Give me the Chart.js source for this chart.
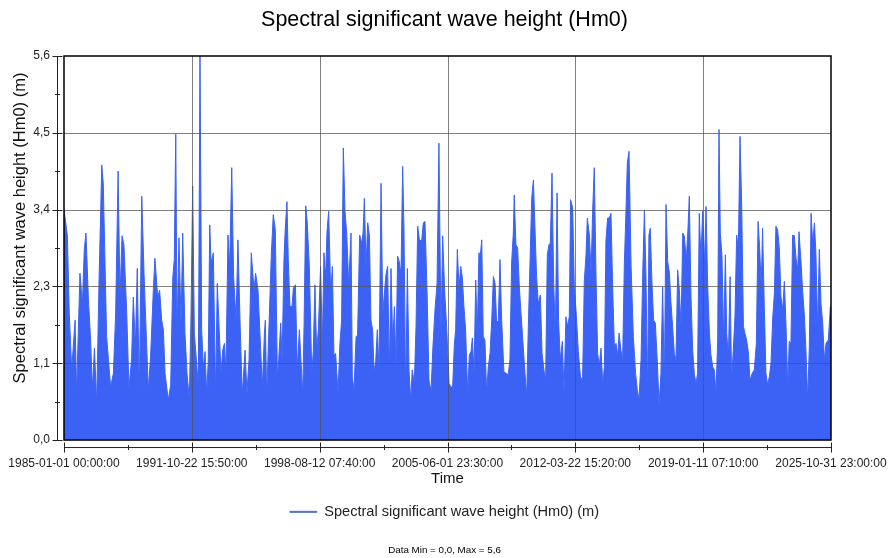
<!DOCTYPE html>
<html>
<head>
<meta charset="utf-8">
<script src="https://cdn.jsdelivr.net/npm/chart.js@4.4.1/dist/chart.umd.min.js"></script>
<style>
  body { margin: 0; background: #fff; }
  #wave { display: block; }
</style>
</head>
<body>
<canvas id="wave" width="889" height="558"></canvas>
<script>
// texts
const chartTitle = "Spectral significant wave height (Hm0)";
const seriesLabel = "Spectral significant wave height (Hm0) (m)";
const xTitle = "Time";
const footNote = "Data Min = 0,0, Max = 5,6";

// x axis tick labels (first and last are the axis ends)
const timeTickLabels = [
    "1985-01-01 00:00:00",
    "1991-10-22 15:50:00",
    "1998-08-12 07:40:00",
    "2005-06-01 23:30:00",
    "2012-03-22 15:20:00",
    "2019-01-11 07:10:00",
    "2025-10-31 23:00:00"
];

// y axis
const yMax = 5.64;
const yTickLabels = ["0,0", "1,1", "2,3", "3,4", "4,5", "5,6"];

// peaks / troughs, time as decimal year
const sampleYears = [
    1985.00, 1985.18, 1985.28, 1985.41, 1985.59, 1985.67, 1985.85, 1985.98, 1986.08, 1986.17,
    1986.30, 1986.42, 1986.51, 1986.62, 1986.74, 1986.86, 1987.01, 1987.09, 1987.27, 1987.48,
    1987.63, 1987.75, 1987.88, 1987.98, 1988.09, 1988.19, 1988.34, 1988.46, 1988.60, 1988.69,
    1988.80, 1988.90, 1989.01, 1989.14, 1989.26, 1989.37, 1989.49, 1989.61, 1989.76, 1989.84,
    1989.99, 1990.09, 1990.20, 1990.29, 1990.38, 1990.55, 1990.68, 1990.79, 1990.87, 1990.95,
    1991.02, 1991.12, 1991.23, 1991.32, 1991.44, 1991.55, 1991.67, 1991.76, 1991.85, 1991.94,
    1992.06, 1992.15, 1992.24, 1992.33, 1992.42, 1992.51, 1992.60, 1992.68, 1992.76, 1992.83,
    1992.95, 1993.07, 1993.16, 1993.27, 1993.36, 1993.45, 1993.54, 1993.62, 1993.73, 1993.82,
    1993.93, 1994.03, 1994.16, 1994.26, 1994.37, 1994.49, 1994.64, 1994.74, 1994.85, 1994.97,
    1995.12, 1995.20, 1995.33, 1995.43, 1995.56, 1995.67, 1995.72, 1995.79, 1995.93, 1996.04,
    1996.09, 1996.14, 1996.25, 1996.36, 1996.43, 1996.54, 1996.61, 1996.71, 1996.78, 1996.87,
    1996.94, 1997.03, 1997.14, 1997.21, 1997.32, 1997.42, 1997.53, 1997.65, 1997.71, 1997.78,
    1997.87, 1997.95, 1998.06, 1998.19, 1998.27, 1998.36, 1998.45, 1998.54, 1998.66, 1998.75,
    1998.84, 1998.93, 1999.00, 1999.09, 1999.20, 1999.29, 1999.37, 1999.46, 1999.59, 1999.69,
    1999.78, 1999.87, 1999.96, 2000.05, 2000.16, 2000.28, 2000.35, 2000.44, 2000.55, 2000.63,
    2000.74, 2000.85, 2000.92, 2000.99, 2001.08, 2001.17, 2001.26, 2001.34, 2001.43, 2001.50,
    2001.59, 2001.68, 2001.77, 2001.88, 2001.97, 2002.05, 2002.14, 2002.23, 2002.32, 2002.41,
    2002.50, 2002.59, 2002.67, 2002.76, 2002.85, 2002.94, 2003.03, 2003.10, 2003.19, 2003.28,
    2003.37, 2003.46, 2003.54, 2003.65, 2003.74, 2003.83, 2003.92, 2004.04, 2004.13, 2004.22,
    2004.33, 2004.43, 2004.54, 2004.64, 2004.75, 2004.86, 2004.96, 2005.07, 2005.16, 2005.27,
    2005.37, 2005.50, 2005.60, 2005.69, 2005.78, 2005.85, 2005.94, 2006.03, 2006.12, 2006.21,
    2006.29, 2006.38, 2006.49, 2006.58, 2006.67, 2006.74, 2006.83, 2006.92, 2007.00, 2007.09,
    2007.16, 2007.24, 2007.32, 2007.41, 2007.50, 2007.59, 2007.68, 2007.77, 2007.86, 2007.95,
    2008.03, 2008.12, 2008.21, 2008.30, 2008.42, 2008.53, 2008.65, 2008.74, 2008.83, 2008.92,
    2008.97, 2009.06, 2009.15, 2009.24, 2009.33, 2009.45, 2009.54, 2009.63, 2009.72, 2009.81,
    2009.90, 2009.99, 2010.07, 2010.16, 2010.25, 2010.36, 2010.45, 2010.55, 2010.64, 2010.73,
    2010.82, 2010.89, 2010.98, 2011.07, 2011.16, 2011.25, 2011.33, 2011.42, 2011.53, 2011.62,
    2011.72, 2011.81, 2011.90, 2011.97, 2012.08, 2012.17, 2012.28, 2012.38, 2012.51, 2012.61,
    2012.70, 2012.79, 2012.86, 2012.97, 2013.06, 2013.14, 2013.23, 2013.32, 2013.41, 2013.50,
    2013.59, 2013.68, 2013.77, 2013.85, 2013.94, 2014.03, 2014.12, 2014.21, 2014.30, 2014.39,
    2014.48, 2014.55, 2014.65, 2014.74, 2014.83, 2014.92, 2014.99, 2015.08, 2015.19, 2015.31,
    2015.43, 2015.52, 2015.61, 2015.72, 2015.81, 2015.90, 2015.98, 2016.07, 2016.14, 2016.21,
    2016.30, 2016.39, 2016.48, 2016.59, 2016.68, 2016.78, 2016.87, 2016.96, 2017.05, 2017.14,
    2017.23, 2017.31, 2017.40, 2017.49, 2017.58, 2017.67, 2017.76, 2017.85, 2017.94, 2018.02,
    2018.13, 2018.22, 2018.29, 2018.38, 2018.47, 2018.56, 2018.65, 2018.73, 2018.82, 2018.91,
    2019.00, 2019.09, 2019.18, 2019.27, 2019.36, 2019.44, 2019.53, 2019.62, 2019.71, 2019.80,
    2019.87, 2019.94, 2020.03, 2020.12, 2020.21, 2020.28, 2020.37, 2020.46, 2020.54, 2020.63,
    2020.72, 2020.81, 2020.90, 2020.99, 2021.08, 2021.17, 2021.25, 2021.34, 2021.43, 2021.52,
    2021.64, 2021.75, 2021.86, 2021.95, 2022.03, 2022.12, 2022.19, 2022.28, 2022.37, 2022.46,
    2022.55, 2022.64, 2022.73, 2022.82, 2022.90, 2022.99, 2023.08, 2023.17, 2023.26, 2023.35,
    2023.44, 2023.53, 2023.61, 2023.70, 2023.79, 2023.88, 2023.97, 2024.06, 2024.13, 2024.24,
    2024.32, 2024.41, 2024.50, 2024.59, 2024.68, 2024.77, 2024.86, 2024.95, 2025.03, 2025.12,
    2025.21, 2025.30, 2025.39, 2025.48, 2025.57, 2025.69, 2025.80, 2025.83
];

const hm0Values = [
    3.38, 3.00, 1.86, 1.03, 1.76, 0.69, 2.45, 2.00, 2.80, 3.04,
    2.06, 1.45, 0.74, 1.35, 0.54, 2.28, 4.04, 3.77, 1.52, 0.78,
    0.98, 1.86, 3.95, 2.10, 3.00, 2.87, 1.86, 0.76, 1.20, 2.10,
    1.37, 2.52, 0.69, 3.58, 2.45, 1.62, 0.74, 1.23, 2.23, 2.67,
    2.10, 2.20, 1.76, 1.62, 0.98, 0.59, 0.81, 2.38, 2.65, 4.49,
    1.57, 2.97, 1.72, 3.04, 1.57, 0.98, 0.59, 1.81, 3.73, 1.57,
    1.13, 0.78, 5.64, 1.62, 1.05, 1.30, 0.66, 1.18, 3.16, 2.60,
    2.75, 0.64, 2.30, 1.57, 0.98, 1.32, 1.42, 0.98, 3.01, 2.55,
    4.00, 2.40, 1.76, 2.94, 1.76, 0.66, 1.32, 0.69, 1.18, 2.75,
    2.20, 2.45, 2.20, 1.57, 0.78, 1.57, 1.76, 0.64, 1.81, 2.75,
    3.01, 3.31, 3.09, 0.93, 1.18, 1.72, 1.15, 2.65, 3.11, 3.50,
    2.65, 1.96, 1.96, 2.23, 2.28, 1.03, 1.62, 0.98, 0.66, 1.69,
    3.44, 3.19, 2.55, 0.98, 1.30, 2.28, 1.30, 1.62, 2.55, 1.37,
    2.75, 2.38, 3.06, 3.36, 2.16, 2.55, 1.25, 1.27, 0.69, 1.42,
    1.76, 4.29, 3.36, 3.04, 2.28, 3.04, 0.91, 0.74, 1.52, 1.54,
    3.01, 2.89, 3.04, 3.55, 2.55, 3.19, 3.00, 1.76, 1.62, 1.03,
    1.13, 1.62, 1.03, 3.77, 1.86, 2.13, 2.43, 2.55, 0.98, 2.52,
    1.42, 1.96, 1.10, 2.70, 2.62, 2.43, 4.02, 3.09, 0.66, 2.52,
    1.00, 0.59, 1.03, 0.83, 1.67, 3.14, 2.94, 2.92, 3.19, 3.21,
    2.16, 0.88, 0.71, 1.37, 1.91, 2.30, 4.36, 1.57, 3.00, 2.16,
    1.67, 0.83, 0.78, 0.78, 1.40, 1.62, 2.80, 2.23, 2.55, 2.38,
    1.96, 1.62, 0.69, 1.25, 1.30, 1.50, 0.98, 2.35, 1.57, 2.75,
    2.70, 2.94, 1.52, 1.47, 0.69, 1.08, 1.27, 1.76, 2.40, 2.30,
    1.74, 1.74, 2.65, 1.76, 1.00, 0.98, 0.96, 1.18, 2.60, 3.04,
    3.60, 2.87, 2.82, 2.25, 1.86, 1.37, 0.98, 0.64, 1.67, 2.62,
    3.55, 3.82, 3.14, 2.40, 2.00, 2.13, 1.27, 1.03, 0.88, 2.72,
    2.87, 2.89, 3.92, 2.30, 1.57, 3.63, 1.76, 1.18, 1.45, 0.69,
    1.81, 1.67, 1.81, 3.53, 3.41, 2.23, 1.81, 1.30, 0.88, 0.93,
    2.33, 2.72, 3.26, 3.01, 2.45, 3.33, 4.00, 2.45, 1.27, 1.10,
    1.35, 0.81, 1.08, 2.92, 3.26, 3.26, 3.33, 2.23, 1.37, 1.42,
    1.23, 1.57, 1.32, 1.18, 2.57, 3.38, 4.07, 4.24, 2.55, 1.52,
    0.98, 0.74, 0.59, 1.18, 2.45, 3.38, 2.45, 0.69, 3.01, 3.11,
    2.33, 1.76, 1.72, 1.13, 0.51, 0.98, 2.25, 0.78, 3.46, 2.62,
    2.45, 2.03, 1.67, 1.27, 1.18, 2.50, 2.20, 1.67, 3.04, 3.00,
    2.65, 3.11, 3.58, 2.10, 1.32, 0.96, 0.83, 0.98, 3.33, 2.65,
    3.36, 2.55, 3.43, 2.25, 1.57, 1.25, 1.08, 1.03, 0.69, 1.47,
    4.56, 3.04, 2.70, 1.47, 2.72, 1.57, 1.20, 2.40, 0.88, 1.32,
    1.81, 3.01, 2.80, 4.46, 3.43, 1.67, 1.57, 1.47, 1.30, 0.88,
    0.98, 1.03, 1.42, 3.21, 2.84, 2.25, 3.11, 1.98, 0.98, 0.81,
    0.93, 1.13, 1.79, 2.16, 3.14, 3.09, 2.82, 2.10, 1.91, 2.33,
    1.67, 0.78, 1.45, 1.42, 3.01, 3.00, 2.67, 2.50, 3.06, 2.60,
    2.20, 1.86, 1.32, 0.59, 1.37, 3.33, 2.89, 3.19, 2.75, 1.62,
    2.80, 2.00, 1.72, 1.18, 1.42, 1.47, 1.96, 1.60
];

const blue = "#3b62f4";
const legendBlue = "#4c70dc";
const fontFam = "'Liberation Sans', Arial, sans-serif";

const startMs = Date.UTC(1985, 0, 1);
const yearMs = 365.2425 * 86400000;

function parseStamp(s) {
    const [d, t] = s.split(" ");
    const [yy, mm, dd] = d.split("-").map(Number);
    const [hh, mi, ss] = t.split(":").map(Number);
    return Date.UTC(yy, mm - 1, dd, hh, mi, ss);
}

const xTickValues = timeTickLabels.map(parseStamp);
const yTickValues = yTickLabels.map((l, i) => i * yMax / (yTickLabels.length - 1));

const points = sampleYears.map((yr, i) => ({
    x: startMs + (yr - 1985) * yearMs,
    y: hm0Values[i]
}));

// plot frame, grid over the data, the detached axis lines with minor ticks,
// and the y title (sits a bit above the plot centre in the original)
const axisDecor = {
    id: "axisDecor",
    afterDatasetsDraw(chart) {
        const { ctx, chartArea: a, scales: { x, y } } = chart;
        ctx.save();

        ctx.strokeStyle = "rgba(85,85,85,0.75)";
        ctx.lineWidth = 1;
        ctx.beginPath();
        xTickValues.forEach(v => {
            const px = Math.round(x.getPixelForValue(v)) + 0.5;
            if (px > a.left + 2 && px < a.right - 2) {
                ctx.moveTo(px, a.top);
                ctx.lineTo(px, a.bottom);
            }
        });
        yTickValues.forEach(v => {
            const py = Math.round(y.getPixelForValue(v)) + 0.5;
            if (py > a.top + 2 && py < a.bottom - 2) {
                ctx.moveTo(a.left, py);
                ctx.lineTo(a.right, py);
            }
        });
        ctx.stroke();

        ctx.strokeStyle = "#000";
        ctx.lineWidth = 1.5;
        ctx.strokeRect(a.left, a.top, a.right - a.left, a.bottom - a.top);

        // y axis, left of the frame
        ctx.lineWidth = 1;
        ctx.strokeStyle = "#222";
        const ax = a.left - 6.5;
        ctx.beginPath();
        ctx.moveTo(ax, a.top);
        ctx.lineTo(ax, a.bottom);
        yTickValues.forEach((v, i) => {
            const py = Math.round(y.getPixelForValue(v)) + 0.5;
            ctx.moveTo(ax - 5, py);
            ctx.lineTo(ax + 5, py);
            if (i < yTickValues.length - 1) {
                const pm = Math.round(y.getPixelForValue(v + yMax / 10)) + 0.5;
                ctx.moveTo(ax - 2.5, pm);
                ctx.lineTo(ax + 2.5, pm);
            }
        });
        ctx.stroke();

        // x axis, below the frame
        const ay = a.bottom + 7.5;
        ctx.beginPath();
        ctx.moveTo(a.left, ay);
        ctx.lineTo(a.right, ay);
        xTickValues.forEach((v, i) => {
            const px = Math.round(x.getPixelForValue(v)) + 0.5;
            ctx.moveTo(px, ay - 5);
            ctx.lineTo(px, ay + 5);
            if (i < xTickValues.length - 1) {
                const pm = Math.round(x.getPixelForValue((v + xTickValues[i + 1]) / 2)) + 0.5;
                ctx.moveTo(pm, ay - 2.5);
                ctx.lineTo(pm, ay + 2.5);
            }
        });
        ctx.stroke();

        // y title
        ctx.translate(20, 228);
        ctx.rotate(-Math.PI / 2);
        ctx.font = "16.5px " + fontFam;
        ctx.fillStyle = "#111";
        ctx.textAlign = "center";
        ctx.textBaseline = "middle";
        ctx.fillText(seriesLabel, 0, 0);

        ctx.restore();
    }
};

new Chart(document.getElementById("wave"), {
    type: "line",
    data: {
        datasets: [
            {
                label: seriesLabel,
                data: points,
                borderColor: blue,
                backgroundColor: blue,
                borderWidth: 1,
                fill: "origin",
                pointRadius: 0,
                tension: 0
            }
        ]
    },
    options: {
        responsive: false,
        animation: false,
        layout: { padding: 0 },
        plugins: {
            title: {
                display: true,
                text: chartTitle,
                color: "#000",
                font: { family: fontFam, size: 21.5, weight: "normal" },
                padding: { top: 7.1, bottom: 23.1 }
            },
            legend: {
                position: "bottom",
                labels: {
                    boxWidth: 27,
                    boxHeight: 1,
                    padding: 10,
                    color: "#222",
                    font: { family: fontFam, size: 14.6 },
                    generateLabels: chart => [{
                        text: seriesLabel,
                        fillStyle: legendBlue,
                        strokeStyle: legendBlue,
                        lineWidth: 1,
                        fontColor: "#222",
                        datasetIndex: 0
                    }]
                }
            },
            subtitle: {
                display: true,
                position: "bottom",
                text: footNote,
                color: "#000",
                font: { family: fontFam, size: 9.8 },
                padding: { top: 15, bottom: 2.1 }
            },
            tooltip: { enabled: false }
        },
        scales: {
            x: {
                type: "linear",
                min: xTickValues[0],
                max: xTickValues[xTickValues.length - 1],
                afterBuildTicks: s => { s.ticks = xTickValues.map(v => ({ value: v })); },
                afterFit: s => {
                    s.height = 54.5;
                    s.paddingLeft = 0;
                    s.paddingRight = 58;
                },
                ticks: {
                    autoSkip: false,
                    maxRotation: 0,
                    padding: 16,
                    color: "#222",
                    font: { family: fontFam, size: 12 },
                    callback: (v, i) => timeTickLabels[i]
                },
                grid: { display: false, drawTicks: false },
                border: { display: false },
                title: {
                    display: true,
                    text: xTitle,
                    color: "#111",
                    font: { family: fontFam, size: 15 },
                    padding: { top: 0, bottom: 6.5 }
                }
            },
            y: {
                min: 0,
                max: yMax,
                afterBuildTicks: s => { s.ticks = yTickValues.map(v => ({ value: v })); },
                afterFit: s => { s.width = 64; },
                ticks: {
                    padding: 14,
                    color: "#222",
                    font: { family: fontFam, size: 12 },
                    callback: (v, i) => yTickLabels[i]
                },
                grid: { display: false, drawTicks: false },
                border: { display: false },
                title: { display: false }
            }
        }
    },
    plugins: [axisDecor]
});
</script>
</body>
</html>
